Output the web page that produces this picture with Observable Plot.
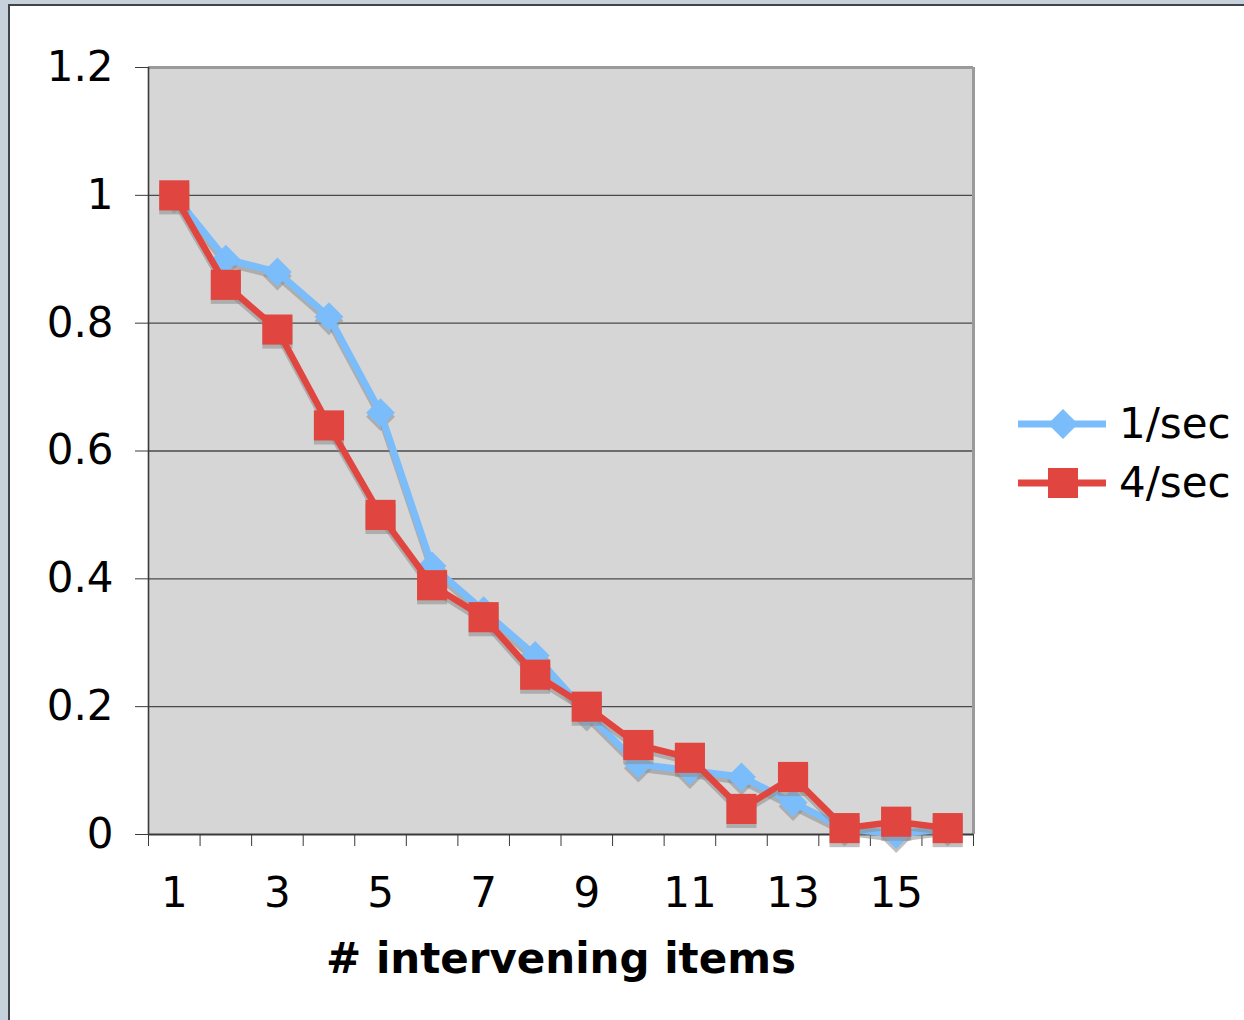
<!DOCTYPE html>
<html>
<head>
<meta charset="utf-8">
<script src="https://cdn.jsdelivr.net/npm/d3@7"></script>
<script src="https://cdn.jsdelivr.net/npm/@observablehq/plot@0.6"></script>
<style>
  html, body { margin: 0; padding: 0; }
  body { width: 1244px; height: 1020px; background: #c6d1dc; position: relative; overflow: hidden; font-family: "DejaVu Sans", Verdana, sans-serif; }
  #panel { position: absolute; left: 8px; top: 4px; right: 0; bottom: 0; background: #fff; border-left: 2px solid #3e4448; border-top: 2px solid #3e4448; }
  #chart { position: absolute; left: 0; top: 0; }
  #legend { position: absolute; left: 1016px; top: 394px; }
  .item { display: flex; align-items: center; height: 59px; }
  .item span { font-size: 42px; color: #000; margin-left: 11px; }
</style>
</head>
<body>
<div id="panel"></div>
<div id="chart"></div>
<div id="legend"></div>
<script>
const items = [1, 2, 3, 4, 5, 6, 7, 8, 9, 10, 11, 12, 13, 14, 15, 16];
const rate1 = [1.00, 0.90, 0.88, 0.81, 0.66, 0.42, 0.35, 0.28, 0.19, 0.11, 0.10, 0.09, 0.05, 0.01, 0.00, 0.01];
const rate4 = [1.00, 0.86, 0.79, 0.64, 0.50, 0.39, 0.34, 0.25, 0.20, 0.14, 0.12, 0.04, 0.09, 0.01, 0.02, 0.01];
const seriesNames = ["1/sec", "4/sec"];
const xTickLabels = [1, 3, 5, 7, 9, 11, 13, 15];
const yTicks = [0, 0.2, 0.4, 0.6, 0.8, 1, 1.2];
const xTitle = "# intervening items";

const blue = "#7bbcfb";
const red = "#e0463f";
const shadow = "#8c8c8c";

const s1 = items.map((x, i) => ({x, y: rate1[i]}));
const s4 = items.map((x, i) => ({x, y: rate4[i]}));
const boundaries = d3.range(items[0] - 0.5, items[items.length - 1] + 1, 1);

const chart = Plot.plot({
  width: 1244,
  height: 1020,
  marginLeft: 148,
  marginRight: 271,
  marginTop: 67,
  marginBottom: 186,
  style: {background: "transparent", fontFamily: "DejaVu Sans, Verdana, sans-serif", fontSize: "42px", color: "#000"},
  x: {type: "linear", domain: [boundaries[0], boundaries[boundaries.length - 1]]},
  y: {domain: [0, 1.2]},
  marks: [
    Plot.frame({fill: "#d6d6d6", stroke: "none"}),
    Plot.gridY(yTicks.filter(d => d > 0 && d < 1.2), {stroke: "#4a4a4a", strokeOpacity: 1, strokeWidth: 1.3}),
    Plot.ruleY([1.2], {stroke: "#9a9a9a", strokeWidth: 3}),
    Plot.ruleX([boundaries[boundaries.length - 1]], {stroke: "#9a9a9a", strokeWidth: 3}),
    Plot.ruleX([boundaries[0]], {stroke: "#3a3a3a", strokeWidth: 1.6}),
    Plot.ruleY([0], {stroke: "#3a3a3a", strokeWidth: 2}),
    Plot.axisY({ticks: yTicks, tickFormat: d => String(+d.toFixed(1)), tickSize: 13, tickPadding: 22, stroke: "#3a3a3a", fontSize: 42, label: null}),
    Plot.axisX({ticks: boundaries, tickFormat: () => "", tickSize: 12, stroke: "#3a3a3a", label: null}),
    Plot.axisX({ticks: xTickLabels, tickFormat: d => String(d), tickSize: 0, tickPadding: 43, fontSize: 42, label: null}),
    Plot.text([xTitle], {frameAnchor: "bottom", dy: 138, fontSize: 42, fontWeight: "bold", fill: "#000"}),
    // 1/sec series with shadow
    Plot.line(s1, {x: "x", y: "y", stroke: shadow, strokeWidth: 7, strokeOpacity: 0.55, dy: 4}),
    Plot.dot(s1, {x: "x", y: "y", symbol: "diamond2", r: 13, fill: shadow, fillOpacity: 0.55, stroke: "none", dy: 4}),
    Plot.line(s1, {x: "x", y: "y", stroke: blue, strokeWidth: 7}),
    Plot.dot(s1, {x: "x", y: "y", symbol: "diamond2", r: 13, fill: blue, stroke: "none"}),
    // 4/sec series with shadow
    Plot.line(s4, {x: "x", y: "y", stroke: shadow, strokeWidth: 6.5, strokeOpacity: 0.55, dy: 4}),
    Plot.dot(s4, {x: "x", y: "y", symbol: "square", r: 17, fill: shadow, fillOpacity: 0.55, stroke: "none", dy: 4}),
    Plot.line(s4, {x: "x", y: "y", stroke: red, strokeWidth: 6.5}),
    Plot.dot(s4, {x: "x", y: "y", symbol: "square", r: 17, fill: red, stroke: "none"})
  ]
});
document.getElementById("chart").appendChild(chart);

const legend = document.getElementById("legend");
const swatches = [
  {name: seriesNames[0], color: blue, shape: "diamond"},
  {name: seriesNames[1], color: red, shape: "square"}
];
for (const s of swatches) {
  const div = document.createElement("div");
  div.className = "item";
  const mark = s.shape === "diamond"
    ? `<polygon points="47,14 62,29 47,44 32,29" fill="${s.color}"/>`
    : `<rect x="32" y="14" width="30" height="30" fill="${s.color}"/>`;
  div.innerHTML = `<svg width="92" height="58"><line x1="2" x2="90" y1="29" y2="29" stroke="${s.color}" stroke-width="7"/>${mark}</svg><span>${s.name}</span>`;
  legend.appendChild(div);
}
</script>
</body>
</html>
